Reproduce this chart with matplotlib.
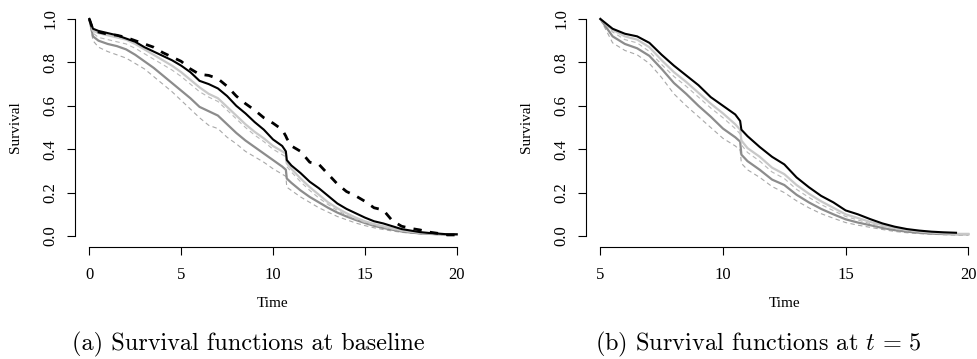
import numpy as np
import matplotlib
matplotlib.use("Agg")
import matplotlib.pyplot as plt

plt.rcParams["font.family"] = ["Liberation Serif", "DejaVu Serif"]
plt.rcParams["mathtext.fontset"] = "cm"

# (a) baseline
t_a = [0, 0.2, 0.5, 1, 1.5, 2, 2.5, 3, 3.5, 4, 4.5, 5, 5.5, 6, 6.5, 7, 7.5, 8, 8.5, 9, 9.5,
       10, 10.5, 10.7, 10.75, 11, 11.5, 12, 12.5, 13, 13.5, 14, 14.5, 15, 15.5, 16, 16.5,
       17, 17.5, 18, 18.5, 19, 19.5, 20]
black_dash_a = [1.0, 0.95, 0.94, 0.93, 0.925, 0.915, 0.90, 0.885, 0.87, 0.845, 0.825, 0.805, 0.77,
                0.745, 0.74, 0.725, 0.69, 0.645, 0.61, 0.58, 0.545, 0.52, 0.49, 0.46, 0.45, 0.415,
                0.39, 0.34, 0.33, 0.285, 0.24, 0.205, 0.185, 0.16, 0.13, 0.12, 0.07, 0.045, 0.035,
                0.028, 0.018, 0.012, 0.005, 0.005]
black_a = [1.0, 0.955, 0.945, 0.935, 0.925, 0.91, 0.895, 0.87, 0.85, 0.83, 0.81, 0.785, 0.755,
           0.715, 0.70, 0.68, 0.645, 0.60, 0.565, 0.525, 0.49, 0.445, 0.415, 0.39, 0.35, 0.325,
           0.29, 0.25, 0.22, 0.185, 0.15, 0.125, 0.105, 0.085, 0.068, 0.058, 0.045, 0.032, 0.025,
           0.018, 0.014, 0.011, 0.008, 0.008]
light_a = [1.0, 0.945, 0.935, 0.925, 0.915, 0.905, 0.885, 0.86, 0.835, 0.81, 0.785, 0.755, 0.72,
           0.685, 0.655, 0.635, 0.595, 0.555, 0.515, 0.48, 0.45, 0.415, 0.39, 0.38, 0.335, 0.31,
           0.265, 0.225, 0.19, 0.155, 0.128, 0.105, 0.085, 0.068, 0.055, 0.045, 0.035, 0.026,
           0.02, 0.015, 0.012, 0.01, 0.008, 0.008]
light_dash_a = [1.0, 0.935, 0.915, 0.905, 0.895, 0.885, 0.865, 0.84, 0.815, 0.79, 0.765, 0.735,
                0.70, 0.665, 0.64, 0.62, 0.58, 0.54, 0.50, 0.465, 0.435, 0.40, 0.375, 0.365, 0.32,
                0.295, 0.25, 0.21, 0.175, 0.145, 0.118, 0.097, 0.078, 0.062, 0.05, 0.04, 0.031,
                0.023, 0.018, 0.013, 0.01, 0.008, 0.007, 0.007]
gray_a = [1.0, 0.92, 0.90, 0.885, 0.875, 0.86, 0.835, 0.805, 0.775, 0.74, 0.705, 0.67, 0.635,
          0.595, 0.575, 0.555, 0.515, 0.475, 0.44, 0.41, 0.38, 0.35, 0.32, 0.305, 0.265, 0.245,
          0.21, 0.18, 0.155, 0.13, 0.108, 0.09, 0.074, 0.06, 0.047, 0.037, 0.029, 0.021, 0.016,
          0.012, 0.01, 0.008, 0.007, 0.007]
gray_dash_a = [1.0, 0.90, 0.87, 0.85, 0.835, 0.82, 0.795, 0.77, 0.735, 0.70, 0.665, 0.625, 0.585,
               0.545, 0.51, 0.495, 0.455, 0.425, 0.39, 0.365, 0.34, 0.31, 0.285, 0.275, 0.225,
               0.21, 0.18, 0.155, 0.13, 0.11, 0.09, 0.075, 0.06, 0.048, 0.038, 0.03, 0.023,
               0.017, 0.013, 0.01, 0.008, 0.006, 0.005, 0.005]

# (b) at t = 5
t_b = [5, 5.5, 6, 6.5, 7, 7.5, 8, 8.5, 9, 9.5, 10, 10.5, 10.7, 10.75, 11, 11.5, 12, 12.5, 13,
       13.5, 14, 14.5, 15, 15.5, 16, 16.5, 17, 17.5, 18, 18.5, 19, 19.5, 20]
black_b = [1.0, 0.955, 0.932, 0.92, 0.89, 0.835, 0.785, 0.74, 0.695, 0.64, 0.60, 0.56, 0.53,
           0.49, 0.46, 0.41, 0.365, 0.33, 0.27, 0.225, 0.185, 0.155, 0.118, 0.10, 0.078, 0.058,
           0.043, 0.032, 0.025, 0.02, 0.017, 0.015, np.nan]
light_b = [1.0, 0.95, 0.92, 0.905, 0.87, 0.81, 0.755, 0.71, 0.66, 0.61, 0.565, 0.515, 0.49,
           0.44, 0.405, 0.365, 0.315, 0.285, 0.235, 0.195, 0.16, 0.13, 0.10, 0.083, 0.065, 0.05,
           0.037, 0.028, 0.021, 0.016, 0.012, 0.01, 0.01]
light_dash_b = [1.0, 0.94, 0.905, 0.89, 0.85, 0.79, 0.735, 0.69, 0.64, 0.59, 0.545, 0.495, 0.47,
                0.42, 0.385, 0.345, 0.295, 0.265, 0.215, 0.178, 0.145, 0.117, 0.09, 0.074,
                0.057, 0.044, 0.032, 0.024, 0.018, 0.014, 0.011, 0.009, 0.009]
gray_b = [1.0, 0.92, 0.885, 0.865, 0.83, 0.77, 0.705, 0.655, 0.60, 0.55, 0.495, 0.455, 0.435,
          0.375, 0.345, 0.305, 0.26, 0.235, 0.19, 0.155, 0.125, 0.10, 0.077, 0.062, 0.05, 0.037,
          0.027, 0.02, 0.015, 0.011, 0.009, 0.008, 0.008]
gray_dash_b = [1.0, 0.89, 0.855, 0.835, 0.795, 0.73, 0.655, 0.60, 0.55, 0.50, 0.45, 0.415, 0.395,
               0.335, 0.305, 0.27, 0.228, 0.20, 0.162, 0.13, 0.103, 0.082, 0.062, 0.05, 0.04,
               0.03, 0.021, 0.015, 0.011, 0.008, 0.006, 0.005, 0.005]

xticks_a = [0, 5, 10, 15, 20]
xticks_b = [5, 10, 15, 20]
yticks = [0.0, 0.2, 0.4, 0.6, 0.8, 1.0]


def style_axis(ax, xticks):
    for s in ["top", "right"]:
        ax.spines[s].set_visible(False)
    ax.spines["left"].set_bounds(0, 1)
    ax.spines["bottom"].set_bounds(xticks[0], xticks[-1])
    ax.spines["bottom"].set_position(("outward", 1.5))
    for s in ["left", "bottom"]:
        ax.spines[s].set_linewidth(0.8)
    ax.set_xticks(xticks)
    ax.set_yticks(yticks)
    ax.set_yticklabels([f"{v:.1f}" for v in yticks], rotation=90, va="center")
    ax.tick_params(axis="both", direction="out", length=5.8, width=0.8, labelsize=12)
    ax.tick_params(axis="x", pad=9)
    ax.tick_params(axis="y", pad=6)
    ax.set_ylim(-0.04, 1.04)
    ax.set_xlabel("Time", fontsize=11)
    ax.set_ylabel("Survival", fontsize=11)
    ax.xaxis.set_label_coords(0.5, -0.249)
    ax.xaxis.label.set_va("center")
    ax.yaxis.set_label_coords(-0.148, 0.5)
    ax.yaxis.label.set_va("center")


fig = plt.figure(figsize=(9.78, 3.59), dpi=100)
ax1 = fig.add_axes([0.0763, 0.3184, 0.4057, 0.6529])
ax2 = fig.add_axes([0.5988, 0.3184, 0.4063, 0.6529])

ax1.plot(t_a, gray_dash_a, color="#a8a8a8", lw=0.8, ls=(0, (4, 3)))
ax1.plot(t_a, gray_a, color="#8c8c8c", lw=1.6)
ax1.plot(t_a, light_dash_a, color="#b8b8b8", lw=0.8, ls=(0, (4, 3)))
ax1.plot(t_a, light_a, color="#c8c8c8", lw=1.6)
ax1.plot(t_a, black_a, color="black", lw=1.5)
ax1.plot(t_a, black_dash_a, color="black", lw=2.0, ls=(0, (3, 3)))
ax1.set_xlim(-0.8, 20.8)
style_axis(ax1, xticks_a)

ax2.plot(t_b, gray_dash_b, color="#a8a8a8", lw=0.8, ls=(0, (4, 3)))
ax2.plot(t_b, gray_b, color="#8c8c8c", lw=1.6)
ax2.plot(t_b, light_dash_b, color="#b8b8b8", lw=0.8, ls=(0, (4, 3)))
ax2.plot(t_b, light_b, color="#c8c8c8", lw=1.6)
ax2.plot(t_b, black_b, color="black", lw=1.5)
ax2.set_xlim(4.4, 20.6)
style_axis(ax2, xticks_b)

fig.text(248 / 978, 1 - 344 / 359, "(a) Survival functions at baseline",
         family="cmr10", fontsize=17.5, ha="center", va="center")
fig.text(758 / 978, 1 - 344 / 359, "(b) Survival functions at $t\\,=\\,5$",
         family="cmr10", fontsize=17.5, ha="center", va="center")

fig.savefig("out.png", dpi=100)
